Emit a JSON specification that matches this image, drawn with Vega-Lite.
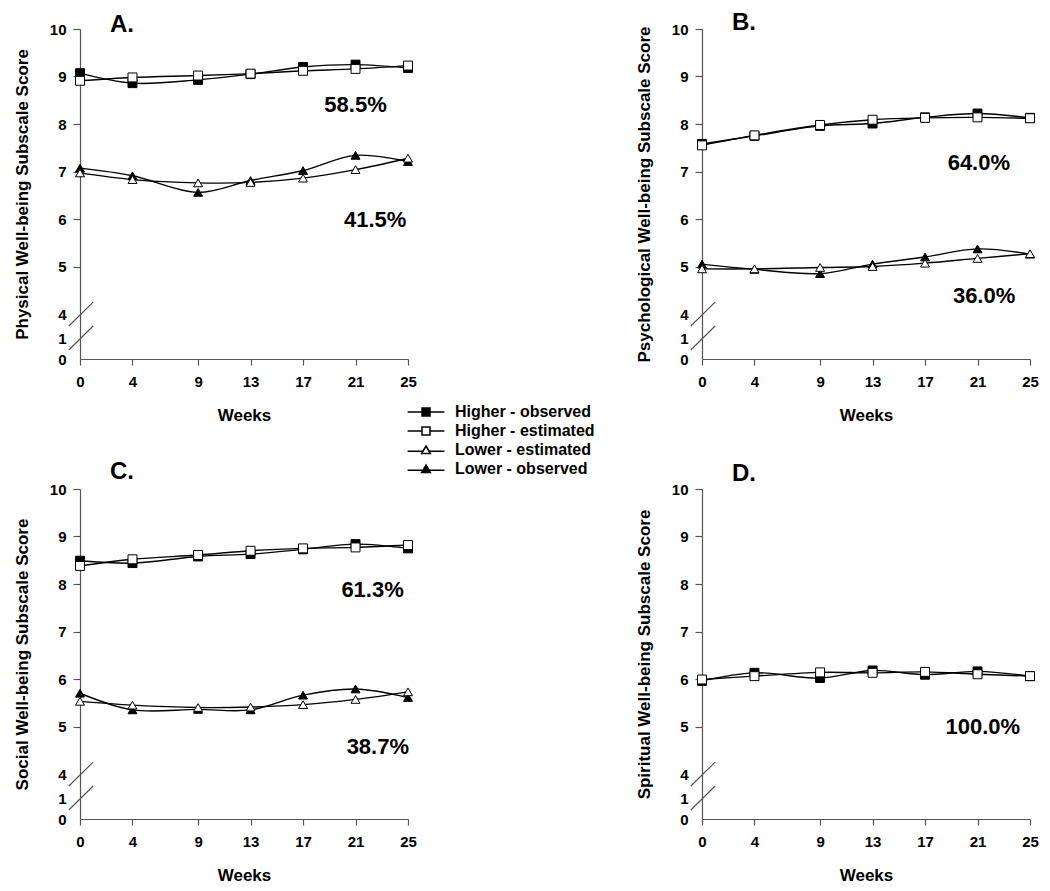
{
  "$schema": "https://vega.github.io/schema/vega-lite/v6.json",
  "background": "white",
  "padding": {"left": 13, "top": 11, "right": 5, "bottom": 5},
  "datasets": {
    "scores": [
      {"panel": "A", "series": "Higher - observed", "week": 0, "score": 9.07},
      {"panel": "A", "series": "Higher - observed", "week": 4, "score": 8.86},
      {"panel": "A", "series": "Higher - observed", "week": 9, "score": 8.93},
      {"panel": "A", "series": "Higher - observed", "week": 13, "score": 9.05},
      {"panel": "A", "series": "Higher - observed", "week": 17, "score": 9.2},
      {"panel": "A", "series": "Higher - observed", "week": 21, "score": 9.25},
      {"panel": "A", "series": "Higher - observed", "week": 25, "score": 9.18},
      {"panel": "A", "series": "Higher - estimated", "week": 0, "score": 8.91},
      {"panel": "A", "series": "Higher - estimated", "week": 4, "score": 8.98},
      {"panel": "A", "series": "Higher - estimated", "week": 9, "score": 9.02},
      {"panel": "A", "series": "Higher - estimated", "week": 13, "score": 9.06},
      {"panel": "A", "series": "Higher - estimated", "week": 17, "score": 9.12},
      {"panel": "A", "series": "Higher - estimated", "week": 21, "score": 9.16},
      {"panel": "A", "series": "Higher - estimated", "week": 25, "score": 9.23},
      {"panel": "A", "series": "Lower - observed", "week": 0, "score": 7.07},
      {"panel": "A", "series": "Lower - observed", "week": 4, "score": 6.91},
      {"panel": "A", "series": "Lower - observed", "week": 9, "score": 6.56},
      {"panel": "A", "series": "Lower - observed", "week": 13, "score": 6.81},
      {"panel": "A", "series": "Lower - observed", "week": 17, "score": 7.02},
      {"panel": "A", "series": "Lower - observed", "week": 21, "score": 7.34},
      {"panel": "A", "series": "Lower - observed", "week": 25, "score": 7.21},
      {"panel": "A", "series": "Lower - estimated", "week": 0, "score": 6.97},
      {"panel": "A", "series": "Lower - estimated", "week": 4, "score": 6.83},
      {"panel": "A", "series": "Lower - estimated", "week": 9, "score": 6.76},
      {"panel": "A", "series": "Lower - estimated", "week": 13, "score": 6.77},
      {"panel": "A", "series": "Lower - estimated", "week": 17, "score": 6.86},
      {"panel": "A", "series": "Lower - estimated", "week": 21, "score": 7.04},
      {"panel": "A", "series": "Lower - estimated", "week": 25, "score": 7.28},

      {"panel": "B", "series": "Higher - observed", "week": 0, "score": 7.58},
      {"panel": "B", "series": "Higher - observed", "week": 4, "score": 7.75},
      {"panel": "B", "series": "Higher - observed", "week": 9, "score": 7.96},
      {"panel": "B", "series": "Higher - observed", "week": 13, "score": 8.01},
      {"panel": "B", "series": "Higher - observed", "week": 17, "score": 8.14},
      {"panel": "B", "series": "Higher - observed", "week": 21, "score": 8.22},
      {"panel": "B", "series": "Higher - observed", "week": 25, "score": 8.13},
      {"panel": "B", "series": "Higher - estimated", "week": 0, "score": 7.55},
      {"panel": "B", "series": "Higher - estimated", "week": 4, "score": 7.76},
      {"panel": "B", "series": "Higher - estimated", "week": 9, "score": 7.98},
      {"panel": "B", "series": "Higher - estimated", "week": 13, "score": 8.09},
      {"panel": "B", "series": "Higher - estimated", "week": 17, "score": 8.13},
      {"panel": "B", "series": "Higher - estimated", "week": 21, "score": 8.14},
      {"panel": "B", "series": "Higher - estimated", "week": 25, "score": 8.12},
      {"panel": "B", "series": "Lower - observed", "week": 0, "score": 5.05},
      {"panel": "B", "series": "Lower - observed", "week": 4, "score": 4.94},
      {"panel": "B", "series": "Lower - observed", "week": 9, "score": 4.85},
      {"panel": "B", "series": "Lower - observed", "week": 13, "score": 5.05},
      {"panel": "B", "series": "Lower - observed", "week": 17, "score": 5.2},
      {"panel": "B", "series": "Lower - observed", "week": 21, "score": 5.37},
      {"panel": "B", "series": "Lower - observed", "week": 25, "score": 5.26},
      {"panel": "B", "series": "Lower - estimated", "week": 0, "score": 4.95},
      {"panel": "B", "series": "Lower - estimated", "week": 4, "score": 4.95},
      {"panel": "B", "series": "Lower - estimated", "week": 9, "score": 4.98},
      {"panel": "B", "series": "Lower - estimated", "week": 13, "score": 5.0},
      {"panel": "B", "series": "Lower - estimated", "week": 17, "score": 5.07},
      {"panel": "B", "series": "Lower - estimated", "week": 21, "score": 5.17},
      {"panel": "B", "series": "Lower - estimated", "week": 25, "score": 5.27},

      {"panel": "C", "series": "Higher - observed", "week": 0, "score": 8.49},
      {"panel": "C", "series": "Higher - observed", "week": 4, "score": 8.44},
      {"panel": "C", "series": "Higher - observed", "week": 9, "score": 8.58},
      {"panel": "C", "series": "Higher - observed", "week": 13, "score": 8.63},
      {"panel": "C", "series": "Higher - observed", "week": 17, "score": 8.73},
      {"panel": "C", "series": "Higher - observed", "week": 21, "score": 8.84},
      {"panel": "C", "series": "Higher - observed", "week": 25, "score": 8.75},
      {"panel": "C", "series": "Higher - estimated", "week": 0, "score": 8.38},
      {"panel": "C", "series": "Higher - estimated", "week": 4, "score": 8.52},
      {"panel": "C", "series": "Higher - estimated", "week": 9, "score": 8.61},
      {"panel": "C", "series": "Higher - estimated", "week": 13, "score": 8.7},
      {"panel": "C", "series": "Higher - estimated", "week": 17, "score": 8.75},
      {"panel": "C", "series": "Higher - estimated", "week": 21, "score": 8.77},
      {"panel": "C", "series": "Higher - estimated", "week": 25, "score": 8.82},
      {"panel": "C", "series": "Lower - observed", "week": 0, "score": 5.7},
      {"panel": "C", "series": "Lower - observed", "week": 4, "score": 5.35},
      {"panel": "C", "series": "Lower - observed", "week": 9, "score": 5.36},
      {"panel": "C", "series": "Lower - observed", "week": 13, "score": 5.35},
      {"panel": "C", "series": "Lower - observed", "week": 17, "score": 5.66},
      {"panel": "C", "series": "Lower - observed", "week": 21, "score": 5.79},
      {"panel": "C", "series": "Lower - observed", "week": 25, "score": 5.61},
      {"panel": "C", "series": "Lower - estimated", "week": 0, "score": 5.53},
      {"panel": "C", "series": "Lower - estimated", "week": 4, "score": 5.45},
      {"panel": "C", "series": "Lower - estimated", "week": 9, "score": 5.4},
      {"panel": "C", "series": "Lower - estimated", "week": 13, "score": 5.41},
      {"panel": "C", "series": "Lower - estimated", "week": 17, "score": 5.46},
      {"panel": "C", "series": "Lower - estimated", "week": 21, "score": 5.57},
      {"panel": "C", "series": "Lower - estimated", "week": 25, "score": 5.73},

      {"panel": "D", "series": "Higher - observed", "week": 0, "score": 5.96},
      {"panel": "D", "series": "Higher - observed", "week": 4, "score": 6.13},
      {"panel": "D", "series": "Higher - observed", "week": 9, "score": 6.02},
      {"panel": "D", "series": "Higher - observed", "week": 13, "score": 6.18},
      {"panel": "D", "series": "Higher - observed", "week": 17, "score": 6.09},
      {"panel": "D", "series": "Higher - observed", "week": 21, "score": 6.16},
      {"panel": "D", "series": "Higher - observed", "week": 25, "score": 6.06},
      {"panel": "D", "series": "Higher - estimated", "week": 0, "score": 5.99},
      {"panel": "D", "series": "Higher - estimated", "week": 4, "score": 6.06},
      {"panel": "D", "series": "Higher - estimated", "week": 9, "score": 6.14},
      {"panel": "D", "series": "Higher - estimated", "week": 13, "score": 6.13},
      {"panel": "D", "series": "Higher - estimated", "week": 17, "score": 6.15},
      {"panel": "D", "series": "Higher - estimated", "week": 21, "score": 6.1},
      {"panel": "D", "series": "Higher - estimated", "week": 25, "score": 6.06}
    ],
    "shares": [
      {"panel": "A", "label": "58.5%", "week": 21.0, "score": 8.4},
      {"panel": "A", "label": "41.5%", "week": 22.5, "score": 5.98},
      {"panel": "B", "label": "64.0%", "week": 21.1, "score": 7.18},
      {"panel": "B", "label": "36.0%", "week": 21.5, "score": 4.38},
      {"panel": "C", "label": "61.3%", "week": 22.3, "score": 7.87},
      {"panel": "C", "label": "38.7%", "week": 22.7, "score": 4.57},
      {"panel": "D", "label": "100.0%", "week": 21.4, "score": 5.0}
    ],
    "axisbreak": [
      {"week": -0.85, "score": 2.5, "week2": 1.0, "score2": 4.25},
      {"week": -0.85, "score": 0.43, "week2": 1.0, "score2": 2.5}
    ]
  },
  "concat": [
    {
      "title": {"text": "A.", "offset": -15},
      "width": 328,
      "height": 330,
      "resolve": {"scale": {"shape": "independent", "fill": "independent"}},
      "layer": [
        {
          "data": {"name": "axisbreak"},
          "mark": {"type": "rule", "color": "#555", "strokeWidth": 1.2},
          "encoding": {
            "x": {"field": "week", "type": "quantitative", "scale": {"domain": [0, 25], "nice": false, "zero": false},
                  "axis": {"title": "Weeks", "values": [0, 4, 9, 13, 17, 21, 25]}},
            "x2": {"field": "week2"},
            "y": {"field": "score", "type": "quantitative", "scale": {"domain": [0, 1, 4, 10], "range": [330, 309, 285, 0], "nice": false, "zero": false},
                  "axis": {"title": "Physical Well-being Subscale Score", "values": [0, 1, 4, 5, 6, 7, 8, 9, 10],
                           "tickOpacity": {"condition": {"test": "datum.value < 5", "value": 0}, "value": 1}}},
            "y2": {"field": "score2"}
          }
        },
        {
          "data": {"name": "scores"},
          "transform": [{"filter": "datum.panel == 'A'"}],
          "mark": {"type": "line", "interpolate": "catmull-rom", "color": "black", "strokeWidth": 1.4},
          "encoding": {
            "x": {"field": "week", "type": "quantitative", "scale": {"domain": [0, 25], "nice": false, "zero": false}},
            "y": {"field": "score", "type": "quantitative", "scale": {"domain": [0, 1, 4, 10], "range": [330, 309, 285, 0], "nice": false, "zero": false}},
            "detail": {"field": "series", "type": "nominal"}
          }
        },
        {
          "data": {"name": "scores"},
          "transform": [{"filter": "datum.panel == 'A'"}],
          "mark": {"type": "point", "filled": true, "size": 80, "stroke": "black", "strokeWidth": 1, "opacity": 1},
          "encoding": {
            "x": {"field": "week", "type": "quantitative", "scale": {"domain": [0, 25], "nice": false, "zero": false}},
            "y": {"field": "score", "type": "quantitative", "scale": {"domain": [0, 1, 4, 10], "range": [330, 309, 285, 0], "nice": false, "zero": false}},
            "shape": {"field": "series", "type": "nominal", "legend": null,
              "scale": {"domain": ["Higher - observed", "Higher - estimated", "Lower - estimated", "Lower - observed"], "range": ["square", "square", "triangle-up", "triangle-up"]}},
            "fill": {"field": "series", "type": "nominal", "legend": null,
              "scale": {"domain": ["Higher - observed", "Higher - estimated", "Lower - estimated", "Lower - observed"], "range": ["black", "white", "white", "black"]}}
          }
        },
        {
          "data": {"name": "scores"},
          "transform": [{"filter": "datum.panel == 'legend only'"}],
          "mark": {"type": "point", "filled": true, "stroke": "black", "strokeWidth": 1.2, "opacity": 1},
          "encoding": {
            "x": {"field": "week", "type": "quantitative", "scale": {"domain": [0, 25], "nice": false, "zero": false}},
            "y": {"field": "score", "type": "quantitative", "scale": {"domain": [0, 1, 4, 10], "range": [330, 309, 285, 0], "nice": false, "zero": false}},
            "shape": {"field": "series", "type": "nominal",
              "scale": {"domain": ["Higher - observed", "Higher - estimated", "Lower - estimated", "Lower - observed"],
                        "range": ["M-4.6,0H-1M1,0H4.6M-1,-1H1V1H-1Z", "M-4.6,0H-1M1,0H4.6M-1,-1H1V1H-1Z", "M-4.6,0.3H-0.75M0.75,0.3H4.6M0,-1L1.1,0.9H-1.1Z", "M-4.6,0.3H-0.75M0.75,0.3H4.6M0,-1L1.1,0.9H-1.1Z"]},
              "legend": {"title": null, "orient": "none", "legendX": 338, "legendY": 375, "symbolSize": 64, "labelOffset": 21, "rowPadding": 3,
                "labelFont": "Liberation Sans", "labelFontSize": 16, "labelFontWeight": "bold", "labelColor": "black",
                "encode": {"symbols": {"stroke": {"value": "black"}, "strokeWidth": {"value": 1.2}}}}},
            "fill": {"field": "series", "type": "nominal",
              "scale": {"domain": ["Higher - observed", "Higher - estimated", "Lower - estimated", "Lower - observed"], "range": ["black", "white", "white", "black"]},
              "legend": {"title": null, "orient": "none", "legendX": 338, "legendY": 375, "symbolSize": 64, "labelOffset": 21, "rowPadding": 3,
                "labelFont": "Liberation Sans", "labelFontSize": 16, "labelFontWeight": "bold", "labelColor": "black",
                "encode": {"symbols": {"stroke": {"value": "black"}, "strokeWidth": {"value": 1.2}}}}}
          }
        },
        {
          "data": {"name": "shares"},
          "transform": [{"filter": "datum.panel == 'A'"}],
          "mark": {"type": "text", "font": "Liberation Sans", "fontSize": 22, "fontWeight": "bold", "color": "black"},
          "encoding": {
            "x": {"field": "week", "type": "quantitative", "scale": {"domain": [0, 25], "nice": false, "zero": false}},
            "y": {"field": "score", "type": "quantitative", "scale": {"domain": [0, 1, 4, 10], "range": [330, 309, 285, 0], "nice": false, "zero": false}},
            "text": {"field": "label"}
          }
        }
      ]
    },
    {
      "title": {"text": "B.", "offset": -13},
      "width": 328,
      "height": 330,
      "layer": [
        {
          "data": {"name": "axisbreak"},
          "mark": {"type": "rule", "color": "#555", "strokeWidth": 1.2},
          "encoding": {
            "x": {"field": "week", "type": "quantitative", "scale": {"domain": [0, 25], "nice": false, "zero": false},
                  "axis": {"title": "Weeks", "values": [0, 4, 9, 13, 17, 21, 25]}},
            "x2": {"field": "week2"},
            "y": {"field": "score", "type": "quantitative", "scale": {"domain": [0, 1, 4, 10], "range": [330, 309, 285, 0], "nice": false, "zero": false},
                  "axis": {"title": "Psychological Well-being Subscale Score", "values": [0, 1, 4, 5, 6, 7, 8, 9, 10],
                           "tickOpacity": {"condition": {"test": "datum.value < 5", "value": 0}, "value": 1}}},
            "y2": {"field": "score2"}
          }
        },
        {
          "data": {"name": "scores"},
          "transform": [{"filter": "datum.panel == 'B'"}],
          "mark": {"type": "line", "interpolate": "catmull-rom", "color": "black", "strokeWidth": 1.4},
          "encoding": {
            "x": {"field": "week", "type": "quantitative", "scale": {"domain": [0, 25], "nice": false, "zero": false}},
            "y": {"field": "score", "type": "quantitative", "scale": {"domain": [0, 1, 4, 10], "range": [330, 309, 285, 0], "nice": false, "zero": false}},
            "detail": {"field": "series", "type": "nominal"}
          }
        },
        {
          "data": {"name": "scores"},
          "transform": [{"filter": "datum.panel == 'B'"}],
          "mark": {"type": "point", "filled": true, "size": 80, "stroke": "black", "strokeWidth": 1, "opacity": 1},
          "encoding": {
            "x": {"field": "week", "type": "quantitative", "scale": {"domain": [0, 25], "nice": false, "zero": false}},
            "y": {"field": "score", "type": "quantitative", "scale": {"domain": [0, 1, 4, 10], "range": [330, 309, 285, 0], "nice": false, "zero": false}},
            "shape": {"field": "series", "type": "nominal", "legend": null,
              "scale": {"domain": ["Higher - observed", "Higher - estimated", "Lower - estimated", "Lower - observed"], "range": ["square", "square", "triangle-up", "triangle-up"]}},
            "fill": {"field": "series", "type": "nominal", "legend": null,
              "scale": {"domain": ["Higher - observed", "Higher - estimated", "Lower - estimated", "Lower - observed"], "range": ["black", "white", "white", "black"]}}
          }
        },
        {
          "data": {"name": "shares"},
          "transform": [{"filter": "datum.panel == 'B'"}],
          "mark": {"type": "text", "font": "Liberation Sans", "fontSize": 22, "fontWeight": "bold", "color": "black"},
          "encoding": {
            "x": {"field": "week", "type": "quantitative", "scale": {"domain": [0, 25], "nice": false, "zero": false}},
            "y": {"field": "score", "type": "quantitative", "scale": {"domain": [0, 1, 4, 10], "range": [330, 309, 285, 0], "nice": false, "zero": false}},
            "text": {"field": "label"}
          }
        }
      ]
    },
    {
      "title": {"text": "C.", "offset": -2},
      "width": 328,
      "height": 330,
      "layer": [
        {
          "data": {"name": "axisbreak"},
          "mark": {"type": "rule", "color": "#555", "strokeWidth": 1.2},
          "encoding": {
            "x": {"field": "week", "type": "quantitative", "scale": {"domain": [0, 25], "nice": false, "zero": false},
                  "axis": {"title": "Weeks", "values": [0, 4, 9, 13, 17, 21, 25]}},
            "x2": {"field": "week2"},
            "y": {"field": "score", "type": "quantitative", "scale": {"domain": [0, 1, 4, 10], "range": [330, 309, 285, 0], "nice": false, "zero": false},
                  "axis": {"title": "Social Well-being Subscale Score", "values": [0, 1, 4, 5, 6, 7, 8, 9, 10],
                           "tickOpacity": {"condition": {"test": "datum.value < 5", "value": 0}, "value": 1}}},
            "y2": {"field": "score2"}
          }
        },
        {
          "data": {"name": "scores"},
          "transform": [{"filter": "datum.panel == 'C'"}],
          "mark": {"type": "line", "interpolate": "catmull-rom", "color": "black", "strokeWidth": 1.4},
          "encoding": {
            "x": {"field": "week", "type": "quantitative", "scale": {"domain": [0, 25], "nice": false, "zero": false}},
            "y": {"field": "score", "type": "quantitative", "scale": {"domain": [0, 1, 4, 10], "range": [330, 309, 285, 0], "nice": false, "zero": false}},
            "detail": {"field": "series", "type": "nominal"}
          }
        },
        {
          "data": {"name": "scores"},
          "transform": [{"filter": "datum.panel == 'C'"}],
          "mark": {"type": "point", "filled": true, "size": 80, "stroke": "black", "strokeWidth": 1, "opacity": 1},
          "encoding": {
            "x": {"field": "week", "type": "quantitative", "scale": {"domain": [0, 25], "nice": false, "zero": false}},
            "y": {"field": "score", "type": "quantitative", "scale": {"domain": [0, 1, 4, 10], "range": [330, 309, 285, 0], "nice": false, "zero": false}},
            "shape": {"field": "series", "type": "nominal", "legend": null,
              "scale": {"domain": ["Higher - observed", "Higher - estimated", "Lower - estimated", "Lower - observed"], "range": ["square", "square", "triangle-up", "triangle-up"]}},
            "fill": {"field": "series", "type": "nominal", "legend": null,
              "scale": {"domain": ["Higher - observed", "Higher - estimated", "Lower - estimated", "Lower - observed"], "range": ["black", "white", "white", "black"]}}
          }
        },
        {
          "data": {"name": "shares"},
          "transform": [{"filter": "datum.panel == 'C'"}],
          "mark": {"type": "text", "font": "Liberation Sans", "fontSize": 22, "fontWeight": "bold", "color": "black"},
          "encoding": {
            "x": {"field": "week", "type": "quantitative", "scale": {"domain": [0, 25], "nice": false, "zero": false}},
            "y": {"field": "score", "type": "quantitative", "scale": {"domain": [0, 1, 4, 10], "range": [330, 309, 285, 0], "nice": false, "zero": false}},
            "text": {"field": "label"}
          }
        }
      ]
    },
    {
      "title": {"text": "D.", "offset": -4},
      "width": 328,
      "height": 330,
      "layer": [
        {
          "data": {"name": "axisbreak"},
          "mark": {"type": "rule", "color": "#555", "strokeWidth": 1.2},
          "encoding": {
            "x": {"field": "week", "type": "quantitative", "scale": {"domain": [0, 25], "nice": false, "zero": false},
                  "axis": {"title": "Weeks", "values": [0, 4, 9, 13, 17, 21, 25]}},
            "x2": {"field": "week2"},
            "y": {"field": "score", "type": "quantitative", "scale": {"domain": [0, 1, 4, 10], "range": [330, 309, 285, 0], "nice": false, "zero": false},
                  "axis": {"title": "Spiritual Well-being Subscale Score", "values": [0, 1, 4, 5, 6, 7, 8, 9, 10],
                           "tickOpacity": {"condition": {"test": "datum.value < 5", "value": 0}, "value": 1}}},
            "y2": {"field": "score2"}
          }
        },
        {
          "data": {"name": "scores"},
          "transform": [{"filter": "datum.panel == 'D'"}],
          "mark": {"type": "line", "interpolate": "catmull-rom", "color": "black", "strokeWidth": 1.4},
          "encoding": {
            "x": {"field": "week", "type": "quantitative", "scale": {"domain": [0, 25], "nice": false, "zero": false}},
            "y": {"field": "score", "type": "quantitative", "scale": {"domain": [0, 1, 4, 10], "range": [330, 309, 285, 0], "nice": false, "zero": false}},
            "detail": {"field": "series", "type": "nominal"}
          }
        },
        {
          "data": {"name": "scores"},
          "transform": [{"filter": "datum.panel == 'D'"}],
          "mark": {"type": "point", "filled": true, "size": 80, "stroke": "black", "strokeWidth": 1, "opacity": 1},
          "encoding": {
            "x": {"field": "week", "type": "quantitative", "scale": {"domain": [0, 25], "nice": false, "zero": false}},
            "y": {"field": "score", "type": "quantitative", "scale": {"domain": [0, 1, 4, 10], "range": [330, 309, 285, 0], "nice": false, "zero": false}},
            "shape": {"field": "series", "type": "nominal", "legend": null,
              "scale": {"domain": ["Higher - observed", "Higher - estimated", "Lower - estimated", "Lower - observed"], "range": ["square", "square", "triangle-up", "triangle-up"]}},
            "fill": {"field": "series", "type": "nominal", "legend": null,
              "scale": {"domain": ["Higher - observed", "Higher - estimated", "Lower - estimated", "Lower - observed"], "range": ["black", "white", "white", "black"]}}
          }
        },
        {
          "data": {"name": "shares"},
          "transform": [{"filter": "datum.panel == 'D'"}],
          "mark": {"type": "text", "font": "Liberation Sans", "fontSize": 22, "fontWeight": "bold", "color": "black"},
          "encoding": {
            "x": {"field": "week", "type": "quantitative", "scale": {"domain": [0, 25], "nice": false, "zero": false}},
            "y": {"field": "score", "type": "quantitative", "scale": {"domain": [0, 1, 4, 10], "range": [330, 309, 285, 0], "nice": false, "zero": false}},
            "text": {"field": "label"}
          }
        }
      ]
    }
  ],
  "columns": 2,
  "spacing": {"row": 130, "column": 294},
  "bounds": "flush",
  "config": {
    "view": {"stroke": null},
    "axis": {
      "grid": false,
      "domainColor": "#555", "domainWidth": 1.2,
      "tickColor": "#555", "tickWidth": 1.2,
      "labelFont": "Liberation Sans", "labelFontSize": 15, "labelFontWeight": "bold", "labelColor": "black",
      "titleFont": "Liberation Sans", "titleFontSize": 17, "titleFontWeight": "bold", "titleColor": "black"
    },
    "axisX": {"tickSize": 6, "labelPadding": 9, "titlePadding": 18, "labelFlush": false},
    "axisY": {"tickSize": 7, "labelPadding": 7, "titlePadding": 18},
    "title": {"anchor": "start", "dx": 30, "font": "Liberation Sans", "fontSize": 24, "fontWeight": "bold", "color": "black", "frame": "group"}
  }
}
